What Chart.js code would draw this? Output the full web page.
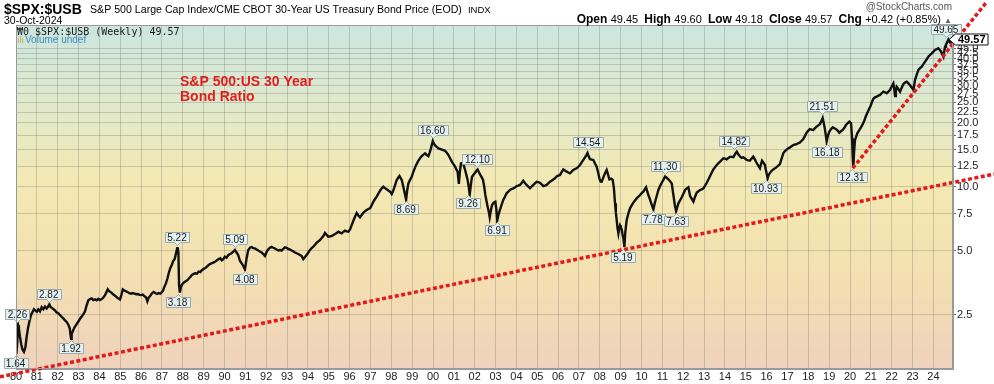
<!DOCTYPE html>
<html>
<head>
<meta charset="utf-8">
<script src="https://cdn.jsdelivr.net/npm/chart.js@4.4.0/dist/chart.umd.min.js"></script>
<style>
  html, body { margin: 0; padding: 0; background: #fff; }
  #wrap { width: 994px; height: 384px; }
</style>
</head>
<body>
<div id="wrap"><canvas id="chart" width="994" height="384"></canvas></div>
<script>
// weekly $SPX:$USB ratio (decimal year, ratio)
const years = [
  1980.00, 1980.02, 1980.06, 1980.10, 1980.14, 1980.19, 1980.25, 1980.31, 1980.38, 1980.45, 1980.51, 1980.58, 1980.65, 1980.72, 1980.79, 1980.86, 1980.93,
  1981.00, 1981.07, 1981.15, 1981.23, 1981.31, 1981.39, 1981.47, 1981.54, 1981.60, 1981.66, 1981.73, 1981.80, 1981.88, 1981.95,
  1982.03, 1982.11, 1982.19, 1982.27, 1982.35, 1982.43, 1982.51, 1982.58, 1982.62, 1982.64, 1982.67, 1982.72, 1982.80, 1982.90, 1982.99,
  1983.07, 1983.15, 1983.23, 1983.31, 1983.39, 1983.47, 1983.55, 1983.63, 1983.71, 1983.79, 1983.87, 1983.95,
  1984.03, 1984.11, 1984.19, 1984.27, 1984.35, 1984.40, 1984.46, 1984.53, 1984.60, 1984.67, 1984.75, 1984.83, 1984.91, 1984.99,
  1985.06, 1985.12, 1985.20, 1985.28, 1985.36, 1985.44, 1985.52, 1985.60, 1985.68, 1985.76, 1985.84, 1985.92,
  1986.00, 1986.08, 1986.16, 1986.24, 1986.30, 1986.36, 1986.44, 1986.52, 1986.60, 1986.68, 1986.76, 1986.84, 1986.92,
  1987.00, 1987.06, 1987.12, 1987.19, 1987.26, 1987.33, 1987.40, 1987.47, 1987.54, 1987.61, 1987.68, 1987.73, 1987.76, 1987.79, 1987.82, 1987.86, 1987.91, 1987.97,
  1988.04, 1988.12, 1988.20, 1988.28, 1988.36, 1988.44, 1988.52, 1988.60, 1988.68, 1988.76, 1988.84, 1988.92,
  1989.00, 1989.08, 1989.16, 1989.24, 1989.32, 1989.40, 1989.48, 1989.56, 1989.64, 1989.72, 1989.80, 1989.87, 1989.94,
  1990.02, 1990.10, 1990.18, 1990.26, 1990.34, 1990.42, 1990.50, 1990.58, 1990.66, 1990.74, 1990.82, 1990.90, 1990.98,
  1991.06, 1991.14, 1991.22, 1991.30, 1991.38, 1991.46, 1991.54, 1991.62, 1991.70, 1991.78, 1991.86, 1991.94,
  1992.02, 1992.10, 1992.18, 1992.26, 1992.34, 1992.42, 1992.50, 1992.58, 1992.66, 1992.74, 1992.82, 1992.90, 1992.98,
  1993.06, 1993.14, 1993.22, 1993.30, 1993.38, 1993.46, 1993.54, 1993.62, 1993.70, 1993.78, 1993.86, 1993.94,
  1994.02, 1994.10, 1994.18, 1994.26, 1994.34, 1994.42, 1994.50, 1994.58, 1994.66, 1994.74, 1994.82, 1994.90, 1994.98,
  1995.06, 1995.14, 1995.22, 1995.30, 1995.38, 1995.46, 1995.54, 1995.62, 1995.70, 1995.78, 1995.86, 1995.94,
  1996.02, 1996.10, 1996.18, 1996.26, 1996.34, 1996.42, 1996.50, 1996.58, 1996.66, 1996.74, 1996.82, 1996.90, 1996.98,
  1997.06, 1997.14, 1997.22, 1997.30, 1997.38, 1997.46, 1997.54, 1997.62, 1997.70, 1997.78, 1997.86, 1997.94,
  1998.02, 1998.08, 1998.13, 1998.20, 1998.26, 1998.33, 1998.39, 1998.45, 1998.50, 1998.56, 1998.61, 1998.67, 1998.71, 1998.76, 1998.82, 1998.90, 1998.98,
  1999.06, 1999.14, 1999.22, 1999.30, 1999.38, 1999.46, 1999.54, 1999.62, 1999.70, 1999.78, 1999.84, 1999.90, 1999.95, 1999.99,
  2000.05, 2000.10, 2000.18, 2000.26, 2000.34, 2000.42, 2000.50, 2000.58, 2000.66, 2000.74, 2000.82, 2000.90, 2000.98,
  2001.06, 2001.12, 2001.18, 2001.24, 2001.29, 2001.34, 2001.43, 2001.49, 2001.54, 2001.60, 2001.66, 2001.72, 2001.76, 2001.82, 2001.87, 2001.95,
  2002.03, 2002.09, 2002.14, 2002.21, 2002.27, 2002.34, 2002.40, 2002.46, 2002.51, 2002.57, 2002.62, 2002.68, 2002.72, 2002.78, 2002.83, 2002.91, 2002.99,
  2003.04, 2003.08, 2003.14, 2003.21, 2003.29, 2003.37, 2003.45, 2003.53, 2003.61, 2003.69, 2003.77, 2003.85, 2003.93,
  2004.01, 2004.09, 2004.17, 2004.25, 2004.33, 2004.41, 2004.49, 2004.57, 2004.65, 2004.73, 2004.81, 2004.89, 2004.97,
  2005.05, 2005.13, 2005.21, 2005.29, 2005.37, 2005.45, 2005.53, 2005.61, 2005.69, 2005.77, 2005.85, 2005.93,
  2006.01, 2006.09, 2006.17, 2006.25, 2006.33, 2006.41, 2006.49, 2006.57, 2006.65, 2006.73, 2006.81, 2006.89, 2006.97,
  2007.05, 2007.13, 2007.21, 2007.29, 2007.35, 2007.41, 2007.47, 2007.53, 2007.61, 2007.69, 2007.77, 2007.85, 2007.92, 2007.98,
  2008.04, 2008.09, 2008.17, 2008.25, 2008.33, 2008.40, 2008.46, 2008.54, 2008.62, 2008.68, 2008.73, 2008.77, 2008.81, 2008.85, 2008.89, 2008.93, 2008.97,
  2009.01, 2009.05, 2009.09, 2009.13, 2009.18, 2009.22, 2009.29, 2009.37, 2009.45, 2009.53, 2009.61, 2009.69, 2009.77, 2009.85, 2009.93,
  2010.01, 2010.09, 2010.15, 2010.22, 2010.28, 2010.33, 2010.39, 2010.44, 2010.50, 2010.57, 2010.63, 2010.70, 2010.76, 2010.81, 2010.89, 2010.97,
  2011.05, 2011.13, 2011.21, 2011.29, 2011.37, 2011.45, 2011.53, 2011.60, 2011.66, 2011.72, 2011.77, 2011.85, 2011.93,
  2012.01, 2012.09, 2012.17, 2012.25, 2012.33, 2012.41, 2012.49, 2012.57, 2012.65, 2012.73, 2012.81, 2012.89, 2012.97,
  2013.05, 2013.13, 2013.21, 2013.29, 2013.37, 2013.45, 2013.53, 2013.61, 2013.69, 2013.77, 2013.85, 2013.93,
  2014.01, 2014.09, 2014.17, 2014.25, 2014.33, 2014.41, 2014.49, 2014.57, 2014.65, 2014.73, 2014.81, 2014.89, 2014.97,
  2015.04, 2015.12, 2015.20, 2015.28, 2015.36, 2015.44, 2015.52, 2015.60, 2015.68, 2015.73, 2015.78, 2015.85, 2015.92, 2015.96,
  2016.00, 2016.05, 2016.10, 2016.20, 2016.32, 2016.48, 2016.64, 2016.72, 2016.80, 2016.88, 2016.96,
  2017.04, 2017.12, 2017.20, 2017.28, 2017.36, 2017.44, 2017.52, 2017.60, 2017.68, 2017.76, 2017.84, 2017.92,
  2018.00, 2018.08, 2018.16, 2018.24, 2018.32, 2018.40, 2018.48, 2018.56, 2018.63, 2018.69, 2018.74, 2018.79, 2018.84, 2018.88, 2018.94,
  2019.01, 2019.09, 2019.17, 2019.25, 2019.33, 2019.41, 2019.49, 2019.57, 2019.65, 2019.73, 2019.81, 2019.89, 2019.97,
  2020.05, 2020.10, 2020.13, 2020.16, 2020.20, 2020.24, 2020.30, 2020.35, 2020.43, 2020.51, 2020.59, 2020.67, 2020.75, 2020.83, 2020.91, 2020.99,
  2021.06, 2021.12, 2021.20, 2021.28, 2021.36, 2021.44, 2021.52, 2021.60, 2021.68, 2021.76, 2021.84, 2021.92,
  2022.00, 2022.08, 2022.12, 2022.16, 2022.20, 2022.24, 2022.32, 2022.40, 2022.48, 2022.56, 2022.64, 2022.72, 2022.80, 2022.88, 2022.96,
  2023.04, 2023.08, 2023.12, 2023.20, 2023.28, 2023.36, 2023.44, 2023.52, 2023.60, 2023.68, 2023.76, 2023.84, 2023.92,
  2024.00, 2024.08, 2024.16, 2024.24, 2024.30, 2024.37, 2024.43, 2024.48, 2024.52, 2024.56, 2024.60, 2024.64, 2024.68, 2024.72, 2024.76, 2024.80, 2024.83
];
const ratio = [
  1.70, 1.64, 1.85, 2.24, 2.15, 1.98, 1.82, 1.72, 1.68, 1.76, 1.97, 2.18, 2.35, 2.50, 2.58, 2.66, 2.62,
  2.59, 2.66, 2.60, 2.72, 2.66, 2.74, 2.68, 2.74, 2.81, 2.72, 2.70, 2.66, 2.62, 2.57,
  2.55, 2.50, 2.45, 2.41, 2.36, 2.32, 2.25, 2.16, 2.00, 1.93, 2.04, 2.09, 2.18, 2.26, 2.33,
  2.40, 2.46, 2.52, 2.60, 2.78, 2.93, 2.97, 2.99, 2.94, 2.96, 2.93, 2.98,
  2.94, 2.97, 3.02, 3.10, 3.22, 3.30, 3.24, 3.21, 3.17, 3.12, 3.08, 3.03, 2.99, 2.96,
  3.12, 3.30, 3.26, 3.23, 3.20, 3.17, 3.15, 3.17, 3.15, 3.13, 3.14, 3.11,
  3.10, 3.12, 3.07, 3.02, 2.90, 3.01, 3.08, 3.16, 3.21, 3.17, 3.14, 3.17, 3.15,
  3.20, 3.27, 3.40, 3.52, 3.70, 3.95, 4.15, 4.30, 4.48, 4.58, 4.90, 5.15, 5.20, 4.90, 3.45, 3.19, 3.38, 3.48,
  3.55, 3.59, 3.63, 3.70, 3.77, 3.86, 3.90, 3.93, 3.91, 4.00, 3.98, 4.06,
  4.12, 4.16, 4.22, 4.30, 4.35, 4.38, 4.42, 4.46, 4.52, 4.58, 4.62, 4.52, 4.58,
  4.70, 4.65, 4.78, 4.84, 4.88, 4.96, 5.06, 4.92, 4.78, 4.50, 4.38, 4.25, 4.10,
  4.62, 5.05, 5.18, 5.22, 5.16, 5.14, 5.08, 5.03, 4.97, 4.92, 4.84, 4.74,
  4.95, 5.09, 5.18, 5.23, 5.18, 5.14, 5.08, 5.03, 5.05, 5.02, 5.12, 5.20, 5.17,
  5.12, 5.08, 5.03, 4.98, 4.92, 4.88, 4.84, 4.79, 4.73, 4.58, 4.68, 4.79,
  4.92, 5.06, 5.16, 5.24, 5.35, 5.47, 5.55, 5.63, 5.75, 5.88, 6.08, 5.95, 5.84,
  5.86, 5.88, 5.95, 6.01, 6.08, 6.16, 6.10, 6.05, 6.15, 6.23, 6.18, 6.16,
  6.32, 6.62, 6.94, 7.25, 7.55, 7.35, 7.20, 7.38, 7.57, 7.70, 7.80, 7.88, 7.94,
  8.22, 8.53, 8.78, 9.01, 9.30, 9.61, 9.85, 10.03, 9.88, 9.75, 9.62, 9.51,
  9.27, 9.55, 9.86, 10.35, 10.79, 11.05, 11.26, 11.00, 10.79, 10.20, 9.68, 9.10, 8.72, 9.60, 10.40, 10.80, 11.18,
  11.80, 12.37, 12.85, 13.30, 13.65, 13.98, 14.20, 14.40, 14.15, 13.98, 14.50, 15.20, 15.90, 16.45,
  15.95, 15.70, 15.45, 15.20, 15.10, 15.00, 14.90, 14.80, 14.50, 14.14, 13.65, 13.16, 12.80,
  12.46, 12.10, 11.80, 10.35, 11.80, 12.90, 13.00, 12.50, 12.02, 11.40, 10.79, 9.90, 9.20, 10.30, 11.18, 11.45,
  11.70, 11.95, 12.08, 11.70, 11.39, 11.10, 10.79, 10.00, 9.17, 8.55, 8.08, 7.60, 7.20, 7.80, 8.20, 8.45, 8.53,
  7.80, 6.95, 7.40, 7.80, 8.25, 8.69, 9.00, 9.34, 9.50, 9.68, 9.78, 9.86, 9.95,
  10.10, 10.15, 10.22, 10.45, 10.71, 10.45, 10.22, 10.05, 9.86, 10.05, 10.22, 10.40, 10.59,
  10.55, 10.47, 10.30, 10.10, 10.15, 10.22, 10.40, 10.59, 10.70, 10.85, 10.98, 11.20,
  11.30, 11.39, 11.75, 12.10, 11.95, 11.81, 11.70, 11.60, 11.80, 12.02, 12.15, 12.24, 12.45,
  12.69, 13.05, 13.40, 13.80, 14.10, 14.45, 13.90, 13.50, 13.45, 13.40, 12.90, 12.46, 11.70, 10.98,
  10.60, 10.59, 11.10, 11.60, 12.02, 11.40, 10.87, 10.95, 10.79, 9.80, 8.38, 7.60, 6.99, 6.40, 6.05, 6.40, 6.60,
  6.45, 6.30, 6.00, 5.75, 5.22, 6.10, 6.99, 7.50, 7.94, 8.20, 8.44, 8.65, 8.85, 9.00, 9.17,
  9.35, 9.51, 9.75, 9.97, 9.50, 9.17, 8.85, 8.53, 8.20, 7.85, 8.35, 8.85, 9.30, 9.68, 10.10, 10.47,
  10.80, 11.20, 11.05, 10.87, 10.65, 10.40, 9.17, 8.20, 7.70, 8.05, 8.38, 8.65, 8.95,
  9.30, 9.68, 9.85, 9.97, 9.07, 8.80, 8.53, 9.00, 9.41, 9.55, 9.68, 9.75, 9.86,
  10.15, 10.47, 10.85, 11.26, 11.70, 12.10, 12.40, 12.69, 12.95, 13.16, 13.40, 13.64,
  13.60, 13.50, 13.70, 13.89, 13.85, 13.80, 14.30, 14.65, 14.20, 13.89, 13.70, 13.80, 13.60,
  13.40, 13.35, 13.30, 13.60, 13.89, 13.45, 13.00, 12.60, 12.24, 12.80, 13.30, 13.00, 12.69, 12.10,
  11.60, 11.00, 11.40, 11.80, 12.10, 12.40, 12.80, 13.60, 14.40, 14.75, 15.00,
  15.20, 15.35, 15.55, 15.76, 15.85, 15.90, 16.05, 16.20, 16.50, 16.80, 17.40, 18.00,
  18.40, 18.70, 18.60, 18.54, 18.90, 19.22, 19.50, 19.80, 20.40, 21.10, 20.00, 18.88, 17.50, 16.40, 17.40,
  18.21, 18.70, 19.10, 18.90, 18.70, 18.40, 18.00, 18.30, 18.54, 19.00, 19.60, 19.95, 20.30,
  19.93, 16.94, 13.80, 12.40, 14.80, 16.64, 17.30, 17.89, 18.40, 18.95, 19.60, 20.30, 21.40, 22.30, 23.20, 24.10,
  25.20, 26.00, 26.40, 26.60, 26.90, 27.10, 27.60, 28.10, 27.90, 27.60, 28.10, 28.60,
  29.70, 30.70, 29.00, 26.80, 28.20, 29.60, 28.90, 28.10, 29.30, 30.50, 31.00, 31.30, 30.70, 30.10, 29.40,
  28.60, 30.20, 31.90, 33.80, 35.50, 36.20, 36.80, 37.80, 38.90, 39.90, 41.00, 41.80, 42.50,
  43.30, 44.10, 44.50, 44.90, 44.20, 43.30, 42.00, 41.00, 43.50, 45.70, 46.60, 47.50, 48.40, 49.30, 48.50, 47.80, 49.57
];

// hand-drawn red dotted trend lines (two end points each)
const supportYears = [1979.23, 2026.91];
const supportValues = [1.28, 11.5];
const breakoutYears = [2020.13, 2026.52];
const breakoutValues = [12.25, 73.4];

// annotation tags on highs and lows
const tagYears  = [1980.07, 1979.98, 1981.57, 1982.64, 1987.72, 1987.75, 1990.50, 1990.98, 1998.71, 1999.98, 2001.68, 2002.13, 2003.07, 2007.43, 2009.11, 2011.13, 2010.55, 2011.65, 2014.44, 2015.95, 2018.66, 2018.90, 2020.10, 2024.60];
const tagValues = [2.26, 1.64, 2.82, 1.92, 5.22, 3.18, 5.09, 4.08, 8.69, 16.60, 9.26, 12.10, 6.91, 14.54, 5.19, 11.30, 7.78, 7.63, 14.82, 10.93, 21.51, 16.18, 12.31, 49.65];
const tagAbove  = [true, false, true, false, true, false, true, false, false, true, false, true, false, true, false, true, false, false, true, false, true, false, false, true];

const yTicks = [2.5, 5, 7.5, 10, 12.5, 15, 17.5, 20, 22.5, 25, 27.5, 30, 32.5, 35, 37.5, 40, 42.5, 45];
const xTickYears = [];
for (let y = 1980; y <= 2024; y++) xTickYears.push(y);

const lastClose = 49.57;
const SANS = '"Liberation Sans", Arial, sans-serif';

function drawTag(ctx, px, py, text, above) {
  ctx.font = '10px ' + SANS;
  const w = Math.round(ctx.measureText(text).width) + 5;
  const h = 10;
  const x0 = Math.round(px - w / 2) + 0.5;
  const cx = Math.round(px) + 0.5;
  ctx.beginPath();
  let y0;
  if (above) {
    y0 = Math.round(py - 5 - h) + 0.5;
    ctx.moveTo(x0, y0);
    ctx.lineTo(x0 + w, y0);
    ctx.lineTo(x0 + w, y0 + h);
    ctx.lineTo(cx + 3, y0 + h);
    ctx.lineTo(cx, y0 + h + 3);
    ctx.lineTo(cx - 3, y0 + h);
    ctx.lineTo(x0, y0 + h);
  } else {
    y0 = Math.round(py + 4) + 0.5;
    ctx.moveTo(x0, y0);
    ctx.lineTo(cx - 3, y0);
    ctx.lineTo(cx, y0 - 3);
    ctx.lineTo(cx + 3, y0);
    ctx.lineTo(x0 + w, y0);
    ctx.lineTo(x0 + w, y0 + h);
    ctx.lineTo(x0, y0 + h);
  }
  ctx.closePath();
  ctx.fillStyle = '#e5f1f1';
  ctx.fill();
  ctx.strokeStyle = '#9aabab';
  ctx.lineWidth = 1;
  ctx.stroke();
  ctx.fillStyle = '#1a1a1a';
  ctx.textAlign = 'center';
  ctx.textBaseline = 'middle';
  ctx.fillText(text, px, y0 + h / 2 + 0.5);
}

function drawRuns(ctx, runs, rightX, baseline) {
  let total = 0;
  runs.forEach(r => { ctx.font = r.font; total += ctx.measureText(r.text).width; });
  let x = rightX - total;
  ctx.textAlign = 'left';
  ctx.textBaseline = 'alphabetic';
  runs.forEach(r => {
    ctx.font = r.font;
    ctx.fillStyle = r.color || '#000';
    ctx.fillText(r.text, x, baseline);
    x += ctx.measureText(r.text).width;
  });
}

// shrink a font size until the text fits the width it has in the picture
function fitFont(ctx, text, size, weight, maxW) {
  ctx.font = weight + size + 'px ' + SANS;
  const w = ctx.measureText(text).width;
  if (w > maxW) size = size * maxW / w;
  ctx.font = weight + size.toFixed(2) + 'px ' + SANS;
  return ctx.measureText(text).width;
}

const decor = {
  id: 'decor',
  beforeDraw(chart) {
    const { ctx, chartArea: a } = chart;
    const g = ctx.createLinearGradient(0, a.top, 0, a.bottom);
    g.addColorStop(0.00, '#cce6df');
    g.addColorStop(0.22, '#dfe9cd');
    g.addColorStop(0.45, '#f3e9b3');
    g.addColorStop(0.72, '#f4e0b1');
    g.addColorStop(1.00, '#efd2bc');
    ctx.save();
    ctx.fillStyle = g;
    ctx.fillRect(a.left, a.top, a.right - a.left, a.bottom - a.top);
    ctx.restore();
  },
  afterDatasetsDraw(chart) {
    const { ctx, scales } = chart;
    ctx.save();
    tagYears.forEach((yr, i) => {
      const px = scales.x.getPixelForValue(yr);
      const py = scales.y.getPixelForValue(tagValues[i]);
      drawTag(ctx, px, py, tagValues[i].toFixed(2), tagAbove[i]);
    });
    ctx.restore();
  },
  afterDraw(chart) {
    const { ctx, chartArea: a, scales } = chart;
    ctx.save();
    // frame
    ctx.strokeStyle = '#9a9a9a';
    ctx.lineWidth = 1;
    ctx.strokeRect(a.left + 0.5, a.top + 0.5, a.right - a.left - 1, a.bottom - a.top - 1);

    // header
    ctx.textAlign = 'left';
    ctx.textBaseline = 'alphabetic';
    ctx.fillStyle = '#000';
    ctx.font = 'bold 14px ' + SANS;
    ctx.fillText('$SPX:$USB', 4, 14);
    const title = 'S&P 500 Large Cap Index/CME CBOT 30-Year US Treasury Bond Price (EOD)';
    const tw0 = fitFont(ctx, title, 11.5, '', 372);
    ctx.fillText(title, 90, 13);
    ctx.font = '9.5px ' + SANS;
    ctx.fillText('INDX', 90 + tw0 + 6, 13);
    ctx.font = '10.5px ' + SANS;
    ctx.fillText('30-Oct-2024', 4, 24);

    ctx.textAlign = 'right';
    ctx.fillStyle = '#555';
    ctx.font = '10px ' + SANS;
    ctx.fillText('@StockCharts.com', 952, 10);

    const B = 'bold 12px ' + SANS, R = '11px ' + SANS;
    drawRuns(ctx, [
      { text: 'Open ', font: B }, { text: '49.45  ', font: R },
      { text: 'High ', font: B }, { text: '49.60  ', font: R },
      { text: 'Low ', font: B }, { text: '49.18  ', font: R },
      { text: 'Close ', font: B }, { text: '49.57  ', font: R },
      { text: 'Chg ', font: B }, { text: '+0.42 (+0.85%) ', font: R },
      { text: '\u25B2', font: '8px ' + SANS, color: '#666' }
    ], 952, 23);

    // in-panel legend
    ctx.textAlign = 'left';
    ctx.fillStyle = '#1a1a1a';
    ctx.font = '10px "DejaVu Sans Mono", monospace';
    ctx.fillText('\u20A90 $SPX:$USB (Weekly) 49.57', 17, 35);
    ctx.fillStyle = '#c9a640';
    ctx.font = '9px ' + SANS;
    ctx.fillText('\u0131l\u0131', 17, 43);
    ctx.fillStyle = '#3b8ec0';
    ctx.font = '10px ' + SANS;
    ctx.fillText('Volume undef', 25, 43);

    // red note
    ctx.fillStyle = '#e21d1d';
    ctx.font = 'bold 14px ' + SANS;
    ctx.fillText('S&P 500:US 30 Year', 180, 86);
    ctx.fillText('Bond Ratio', 180, 101);

    // last value marker on the price axis
    const py = Math.round(scales.y.getPixelForValue(lastClose)) + 0.5;
    ctx.font = 'bold 11px ' + SANS;
    const tw = ctx.measureText(lastClose.toFixed(2)).width;
    const bx = a.right + 2.5, bw = tw + 5, bh = 11;
    ctx.beginPath();
    ctx.moveTo(a.right - 4, py);
    ctx.lineTo(bx, py - bh / 2);
    ctx.lineTo(bx + bw, py - bh / 2);
    ctx.lineTo(bx + bw, py + bh / 2);
    ctx.lineTo(bx, py + bh / 2);
    ctx.closePath();
    ctx.fillStyle = '#fff';
    ctx.fill();
    ctx.strokeStyle = '#111';
    ctx.stroke();
    ctx.fillStyle = '#000';
    ctx.textBaseline = 'middle';
    ctx.fillText(lastClose.toFixed(2), bx + 2.5, py + 0.5);
    ctx.restore();
  }
};

const trendStyle = {
  borderColor: '#e3191c',
  borderWidth: 3.5,
  borderDash: [4, 2.5],
  pointRadius: 0,
  tension: 0,
  clip: false,
  order: 0
};

new Chart(document.getElementById('chart'), {
  type: 'line',
  data: {
    datasets: [
      Object.assign({
        label: 'support',
        data: supportYears.map((x, i) => ({ x, y: supportValues[i] }))
      }, trendStyle),
      Object.assign({
        label: 'breakout',
        data: breakoutYears.map((x, i) => ({ x, y: breakoutValues[i] }))
      }, trendStyle),
      {
        label: '$SPX:$USB',
        data: years.map((x, i) => ({ x, y: ratio[i] })),
        borderColor: '#111',
        borderWidth: 2.4,
        borderJoinStyle: 'miter',
        pointRadius: 0,
        tension: 0,
        order: 1
      }
    ]
  },
  options: {
    responsive: false,
    animation: false,
    devicePixelRatio: 1,
    layout: { padding: { left: 16, top: 25, right: 0, bottom: 0 } },
    plugins: { legend: { display: false }, tooltip: { enabled: false } },
    scales: {
      x: {
        type: 'linear',
        min: 1980,
        max: 2024.94,
        afterBuildTicks: s => { s.ticks = xTickYears.map(v => ({ value: v })); },
        afterFit: s => { s.height = 15; },
        ticks: {
          autoSkip: false,
          maxRotation: 0,
          padding: 1,
          color: '#222',
          font: { family: SANS, size: 11 },
          callback: v => String(v % 100).padStart(2, '0')
        },
        grid: { color: 'rgba(120,120,110,0.33)', drawTicks: false },
        border: { display: true, color: '#9a9a9a' }
      },
      y: {
        type: 'logarithmic',
        position: 'right',
        min: 1.393,
        max: 57.8,
        afterBuildTicks: s => { s.ticks = yTicks.map(v => ({ value: v })); },
        afterFit: s => { s.width = 41; },
        ticks: {
          autoSkip: false,
          padding: 1,
          color: '#222',
          font: { family: SANS, size: 11 },
          callback: v => Number(v).toFixed(1)
        },
        grid: { color: 'rgba(120,120,110,0.33)', tickLength: 3, tickColor: '#666' },
        border: { display: true, color: '#9a9a9a' }
      }
    }
  },
  plugins: [decor]
});
</script>
</body>
</html>
